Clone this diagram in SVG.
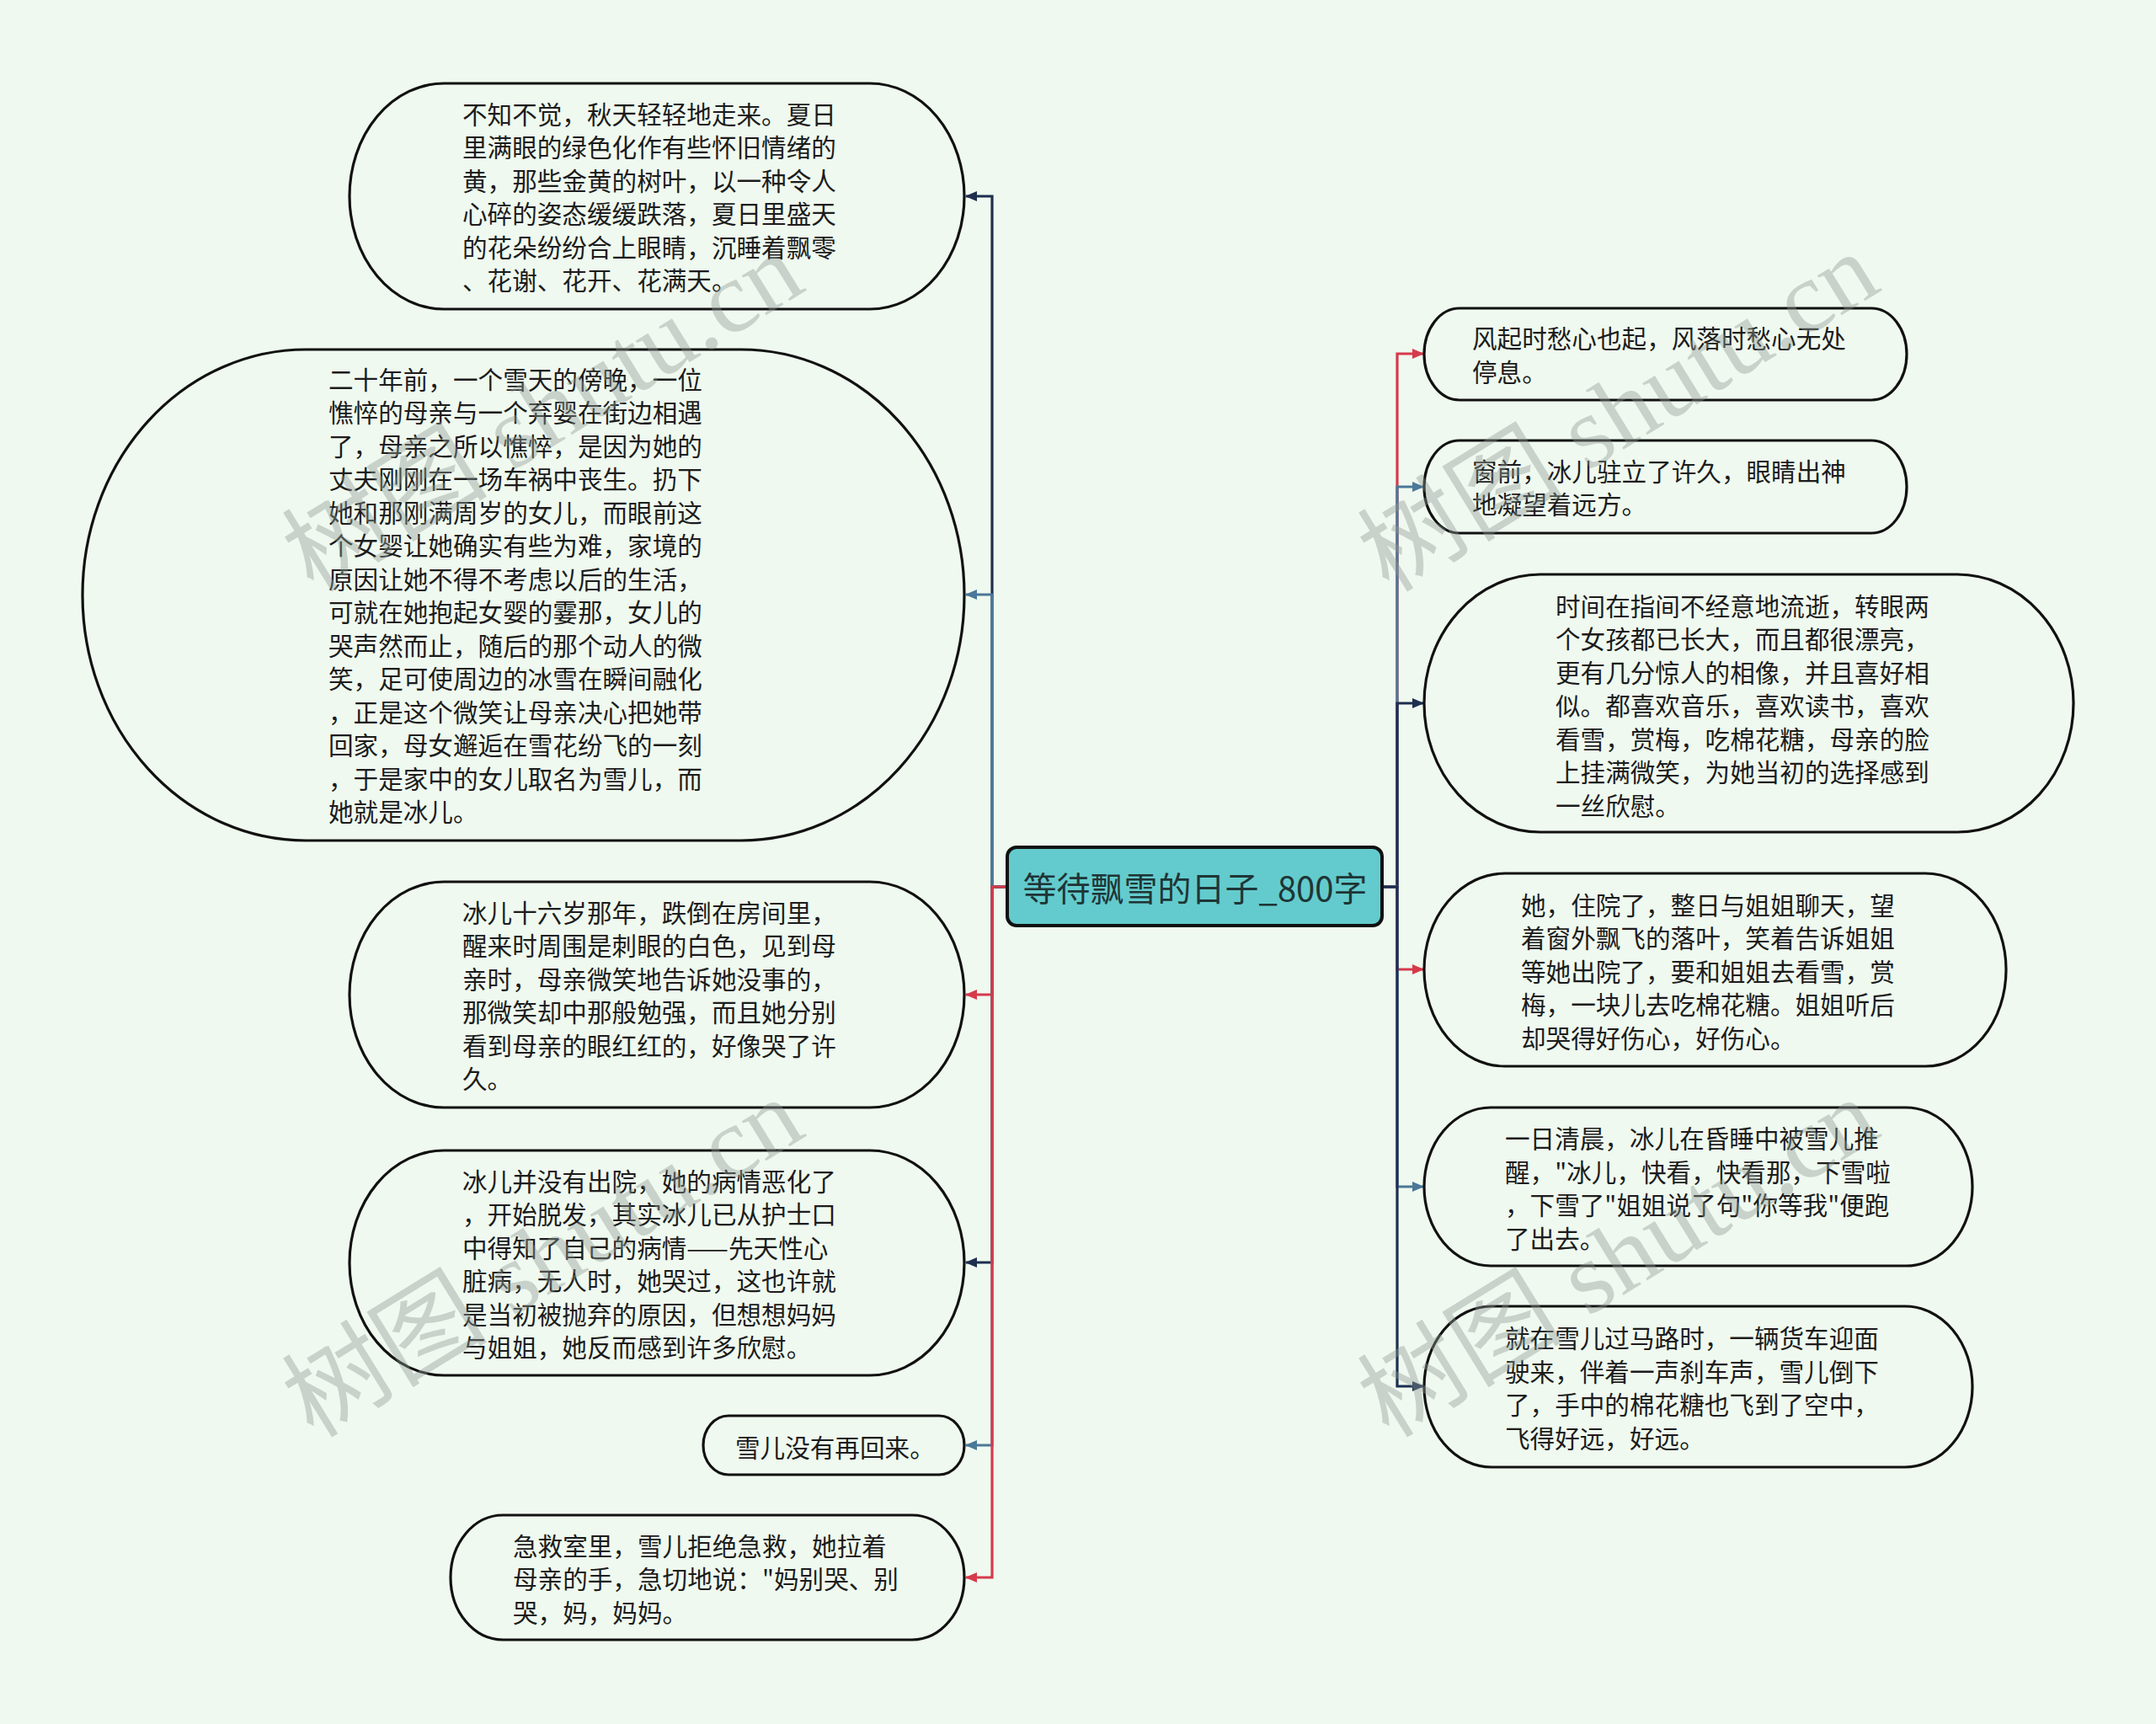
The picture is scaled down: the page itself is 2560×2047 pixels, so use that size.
<svg xmlns="http://www.w3.org/2000/svg" width="2560" height="2047" viewBox="0 0 2560 2047">
<style>
.bg{fill:#eff9ef}
.node{fill:#eff9ef;stroke:#111;stroke-width:3.2}
.t{font-family:"Noto Sans CJK SC","Noto Sans",sans-serif;font-size:29.6px;fill:#1c1c1c;dominant-baseline:central}
.root{fill:#63cbcd;stroke:#111;stroke-width:4}
.rt{font-family:"Noto Sans CJK SC","Noto Sans",sans-serif;font-size:40px;fill:#1f3536;dominant-baseline:central;text-anchor:middle}
.c{fill:none;stroke-width:3.2}
.red{stroke:#d63a4b}
.blue{stroke:#4a7899}
.navy{stroke:#1d2e4f}
.wm{font-family:"Liberation Serif","Noto Sans CJK SC",serif;font-size:120px;fill:#8f9a94;opacity:0.4}
</style>
<defs>
<marker id="aRed" markerWidth="14" markerHeight="12" refX="13" refY="6" orient="auto" markerUnits="userSpaceOnUse"><path d="M0,0 L14,6 L0,12 Z" fill="#d63a4b"/></marker>
<marker id="aBlue" markerWidth="14" markerHeight="12" refX="13" refY="6" orient="auto" markerUnits="userSpaceOnUse"><path d="M0,0 L14,6 L0,12 Z" fill="#4a7899"/></marker>
<marker id="aNavy" markerWidth="14" markerHeight="12" refX="13" refY="6" orient="auto" markerUnits="userSpaceOnUse"><path d="M0,0 L14,6 L0,12 Z" fill="#1d2e4f"/></marker>
</defs>
<rect class="bg" x="0" y="0" width="2560" height="2047"/>

<g id="connectors">
<path class="c navy" d="M1196,1053 H1178 V233 H1147" marker-end="url(#aNavy)"/>
<path class="c blue" d="M1196,1053 H1178 V706 H1147" marker-end="url(#aBlue)"/>
<path class="c red" d="M1196,1053 H1178 V1181 H1147" marker-end="url(#aRed)"/>
<path class="c navy" d="M1196,1053 H1178 V1499 H1147" marker-end="url(#aNavy)"/>
<path class="c blue" d="M1196,1053 H1178 V1716 H1147" marker-end="url(#aBlue)"/>
<path class="c red" d="M1196,1053 H1178 V1873 H1147" marker-end="url(#aRed)"/>
<path class="c red" d="M1641,1053 H1659 V420 H1690" marker-end="url(#aRed)"/>
<path class="c blue" d="M1641,1053 H1659 V578 H1690" marker-end="url(#aBlue)"/>
<path class="c navy" d="M1641,1053 H1659 V835 H1690" marker-end="url(#aNavy)"/>
<path class="c red" d="M1641,1053 H1659 V1151 H1690" marker-end="url(#aRed)"/>
<path class="c blue" d="M1641,1053 H1659 V1409 H1690" marker-end="url(#aBlue)"/>
<path class="c navy" d="M1641,1053 H1659 V1646 H1690" marker-end="url(#aNavy)"/>
</g>

<g id="root">
<rect class="root" x="1196" y="1006" width="445" height="93" rx="11" ry="11"/>
<text class="rt" x="1419" y="1053">等待飘雪的日子_800字</text>
</g>

<g id="L1">
<rect class="node" x="415" y="99" width="730" height="268" rx="112" ry="134"/>
<text class="t" x="549" y="134">不知不觉，秋天轻轻地走来。夏日</text>
<text class="t" x="549" y="173.5">里满眼的绿色化作有些怀旧情绪的</text>
<text class="t" x="549" y="213">黄，那些金黄的树叶，以一种令人</text>
<text class="t" x="549" y="252.5">心碎的姿态缓缓跌落，夏日里盛天</text>
<text class="t" x="549" y="292">的花朵纷纷合上眼睛，沉睡着飘零</text>
<text class="t" x="549" y="331.5">、花谢、花开、花满天。</text>
</g>

<g id="L2">
<rect class="node" x="98" y="415" width="1047" height="583" rx="265" ry="291.5"/>
<text class="t" x="390" y="449">二十年前，一个雪天的傍晚，一位</text>
<text class="t" x="390" y="488.5">憔悴的母亲与一个弃婴在街边相遇</text>
<text class="t" x="390" y="528">了，母亲之所以憔悴，是因为她的</text>
<text class="t" x="390" y="567.5">丈夫刚刚在一场车祸中丧生。扔下</text>
<text class="t" x="390" y="607">她和那刚满周岁的女儿，而眼前这</text>
<text class="t" x="390" y="646.5">个女婴让她确实有些为难，家境的</text>
<text class="t" x="390" y="686">原因让她不得不考虑以后的生活，</text>
<text class="t" x="390" y="725.5">可就在她抱起女婴的霎那，女儿的</text>
<text class="t" x="390" y="765">哭声然而止，随后的那个动人的微</text>
<text class="t" x="390" y="804.5">笑，足可使周边的冰雪在瞬间融化</text>
<text class="t" x="390" y="844">，正是这个微笑让母亲决心把她带</text>
<text class="t" x="390" y="883.5">回家，母女邂逅在雪花纷飞的一刻</text>
<text class="t" x="390" y="923">，于是家中的女儿取名为雪儿，而</text>
<text class="t" x="390" y="962.5">她就是冰儿。</text>
</g>

<g id="L3">
<rect class="node" x="415" y="1047" width="730" height="268" rx="112" ry="134"/>
<text class="t" x="549" y="1082">冰儿十六岁那年，跌倒在房间里，</text>
<text class="t" x="549" y="1121.5">醒来时周围是刺眼的白色，见到母</text>
<text class="t" x="549" y="1161">亲时，母亲微笑地告诉她没事的，</text>
<text class="t" x="549" y="1200.5">那微笑却中那般勉强，而且她分别</text>
<text class="t" x="549" y="1240">看到母亲的眼红红的，好像哭了许</text>
<text class="t" x="549" y="1279.5">久。</text>
</g>

<g id="L4">
<rect class="node" x="415" y="1366" width="730" height="267" rx="112" ry="133.5"/>
<text class="t" x="549" y="1401">冰儿并没有出院，她的病情恶化了</text>
<text class="t" x="549" y="1440.5">，开始脱发，其实冰儿已从护士口</text>
<text class="t" x="549" y="1480">中得知了自己的病情——先天性心</text>
<text class="t" x="549" y="1519.5">脏病，无人时，她哭过，这也许就</text>
<text class="t" x="549" y="1559">是当初被抛弃的原因，但想想妈妈</text>
<text class="t" x="549" y="1598.5">与姐姐，她反而感到许多欣慰。</text>
</g>

<g id="L5">
<rect class="node" x="835" y="1681" width="310" height="70" rx="30" ry="35"/>
<text class="t" x="873" y="1717">雪儿没有再回来。</text>
</g>

<g id="L6">
<rect class="node" x="535" y="1799" width="610" height="148" rx="62" ry="74"/>
<text class="t" x="609" y="1834">急救室里，雪儿拒绝急救，她拉着</text>
<text class="t" x="609" y="1873.5">母亲的手，急切地说："妈别哭、别</text>
<text class="t" x="609" y="1913">哭，妈，妈妈。</text>
</g>

<g id="R1">
<rect class="node" x="1691" y="366" width="573" height="109" rx="42" ry="54.5"/>
<text class="t" x="1748" y="400.5">风起时愁心也起，风落时愁心无处</text>
<text class="t" x="1748" y="440">停息。</text>
</g>

<g id="R2">
<rect class="node" x="1691" y="523" width="573" height="110" rx="42" ry="55"/>
<text class="t" x="1748" y="558">窗前，冰儿驻立了许久，眼睛出神</text>
<text class="t" x="1748" y="597.5">地凝望着远方。</text>
</g>

<g id="R3">
<rect class="node" x="1691" y="682" width="771" height="306" rx="138" ry="153"/>
<text class="t" x="1847" y="718">时间在指间不经意地流逝，转眼两</text>
<text class="t" x="1847" y="757.5">个女孩都已长大，而且都很漂亮，</text>
<text class="t" x="1847" y="797">更有几分惊人的相像，并且喜好相</text>
<text class="t" x="1847" y="836.5">似。都喜欢音乐，喜欢读书，喜欢</text>
<text class="t" x="1847" y="876">看雪，赏梅，吃棉花糖，母亲的脸</text>
<text class="t" x="1847" y="915.5">上挂满微笑，为她当初的选择感到</text>
<text class="t" x="1847" y="955">一丝欣慰。</text>
</g>

<g id="R4">
<rect class="node" x="1691" y="1037" width="691" height="229" rx="96" ry="114.5"/>
<text class="t" x="1806" y="1073">她，住院了，整日与姐姐聊天，望</text>
<text class="t" x="1806" y="1112.5">着窗外飘飞的落叶，笑着告诉姐姐</text>
<text class="t" x="1806" y="1152">等她出院了，要和姐姐去看雪，赏</text>
<text class="t" x="1806" y="1191.5">梅，一块儿去吃棉花糖。姐姐听后</text>
<text class="t" x="1806" y="1231">却哭得好伤心，好伤心。</text>
</g>

<g id="R5">
<rect class="node" x="1691" y="1315" width="651" height="188" rx="79" ry="94"/>
<text class="t" x="1787" y="1350.5">一日清晨，冰儿在昏睡中被雪儿推</text>
<text class="t" x="1787" y="1390">醒，"冰儿，快看，快看那，下雪啦</text>
<text class="t" x="1787" y="1429.5">，下雪了"姐姐说了句"你等我"便跑</text>
<text class="t" x="1787" y="1469">了出去。</text>
</g>

<g id="R6">
<rect class="node" x="1691" y="1551" width="651" height="191" rx="80" ry="95.5"/>
<text class="t" x="1787" y="1587.5">就在雪儿过马路时，一辆货车迎面</text>
<text class="t" x="1787" y="1627">驶来，伴着一声刹车声，雪儿倒下</text>
<text class="t" x="1787" y="1666.5">了，手中的棉花糖也飞到了空中，</text>
<text class="t" x="1787" y="1706">飞得好远，好远。</text>
</g>

<g id="watermarks">
<text class="wm" transform="translate(372,705) rotate(-31.6)" textLength="690" lengthAdjust="spacingAndGlyphs">树图 shutu.cn</text>
<text class="wm" transform="translate(372,1709) rotate(-31.6)" textLength="690" lengthAdjust="spacingAndGlyphs">树图 shutu.cn</text>
<text class="wm" transform="translate(1649,705) rotate(-31.6)" textLength="690" lengthAdjust="spacingAndGlyphs">树图 shutu.cn</text>
<text class="wm" transform="translate(1649,1709) rotate(-31.6)" textLength="690" lengthAdjust="spacingAndGlyphs">树图 shutu.cn</text>
</g>
</svg>
